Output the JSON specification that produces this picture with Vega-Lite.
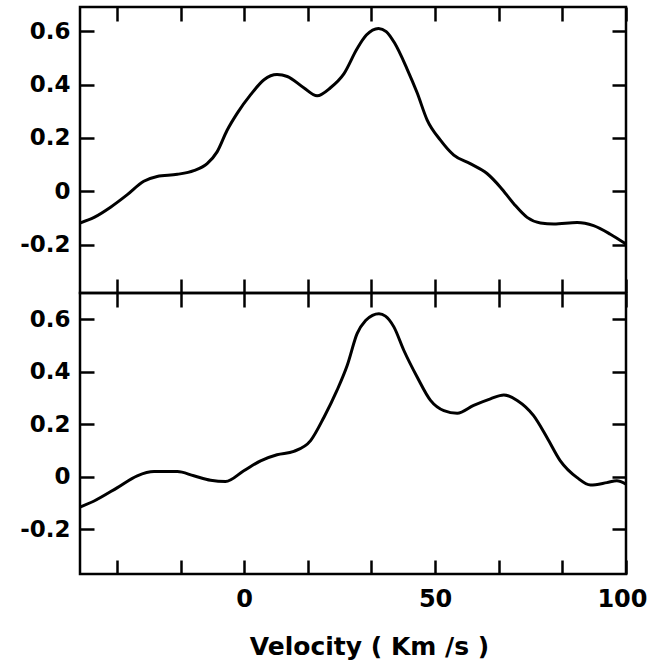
{
  "$schema": "https://vega.github.io/schema/vega-lite/v6.json",
  "padding": {"left": 5, "top": 4, "right": 10, "bottom": 0},
  "background": "white",
  "datasets": {
    "top": [
      {"v": -43, "t": -0.118}, {"v": -39.3, "t": -0.097}, {"v": -35, "t": -0.059},
      {"v": -30.6, "t": -0.012}, {"v": -26.3, "t": 0.038}, {"v": -22.8, "t": 0.056},
      {"v": -17.5, "t": 0.064}, {"v": -13.2, "t": 0.078}, {"v": -9.7, "t": 0.104},
      {"v": -7.1, "t": 0.148}, {"v": -4.5, "t": 0.228}, {"v": -1.8, "t": 0.293},
      {"v": 1.7, "t": 0.362}, {"v": 5.2, "t": 0.418}, {"v": 8.6, "t": 0.437},
      {"v": 11.3, "t": 0.43}, {"v": 15.6, "t": 0.388}, {"v": 19.1, "t": 0.358},
      {"v": 22.6, "t": 0.388}, {"v": 26.1, "t": 0.44}, {"v": 29.6, "t": 0.535},
      {"v": 32.0, "t": 0.585}, {"v": 35.2, "t": 0.61}, {"v": 37.2, "t": 0.598},
      {"v": 39.4, "t": 0.555}, {"v": 42.7, "t": 0.457}, {"v": 45.3, "t": 0.369},
      {"v": 47.9, "t": 0.268}, {"v": 51.4, "t": 0.192}, {"v": 54.9, "t": 0.136},
      {"v": 59.2, "t": 0.104}, {"v": 63.6, "t": 0.067}, {"v": 67.1, "t": 0.016},
      {"v": 70.6, "t": -0.046}, {"v": 74.1, "t": -0.097}, {"v": 77.6, "t": -0.118},
      {"v": 81.1, "t": -0.122}, {"v": 87.2, "t": -0.116}, {"v": 91.5, "t": -0.128},
      {"v": 95.9, "t": -0.16}, {"v": 100, "t": -0.197}
    ],
    "bottom": [
      {"v": -43.3, "t": -0.117}, {"v": -39.3, "t": -0.092}, {"v": -33.2, "t": -0.041},
      {"v": -28, "t": 0.004}, {"v": -23.6, "t": 0.02}, {"v": -17.5, "t": 0.02},
      {"v": -13.2, "t": 0.004}, {"v": -8.8, "t": -0.013}, {"v": -4.9, "t": -0.018},
      {"v": -0.1, "t": 0.023}, {"v": 4.3, "t": 0.061}, {"v": 8.6, "t": 0.084},
      {"v": 13, "t": 0.097}, {"v": 17.4, "t": 0.138}, {"v": 20.9, "t": 0.227},
      {"v": 24.3, "t": 0.329}, {"v": 27, "t": 0.425}, {"v": 29.6, "t": 0.546},
      {"v": 31.8, "t": 0.595}, {"v": 33.6, "t": 0.615}, {"v": 35.3, "t": 0.621},
      {"v": 37, "t": 0.612}, {"v": 39.2, "t": 0.571}, {"v": 41.8, "t": 0.482},
      {"v": 45.3, "t": 0.38}, {"v": 48.8, "t": 0.291}, {"v": 52.3, "t": 0.252},
      {"v": 55.8, "t": 0.242}, {"v": 60.1, "t": 0.272}, {"v": 64.5, "t": 0.297},
      {"v": 68, "t": 0.312}, {"v": 71.5, "t": 0.291}, {"v": 75.8, "t": 0.233},
      {"v": 79.3, "t": 0.15}, {"v": 82.8, "t": 0.061}, {"v": 87.2, "t": -0.003},
      {"v": 90.7, "t": -0.031}, {"v": 95, "t": -0.022}, {"v": 97.6, "t": -0.015},
      {"v": 100, "t": -0.028}
    ]
  },
  "spacing": 0,
  "bounds": "flush",
  "vconcat": [
    {
      "width": 546,
      "height": 286,
      "data": {"name": "top"},
      "layer": [
        {
          "mark": {"type": "line", "interpolate": "monotone", "color": "black", "strokeWidth": 3, "clip": true},
          "encoding": {
            "x": {
              "field": "v", "type": "quantitative",
              "scale": {"domain": [-43, 100], "nice": false, "zero": false},
              "axis": {"orient": "bottom", "values": [-33.333, -16.667, 0, 16.667, 33.333, 50, 66.667, 83.333, 100], "labels": false, "tickSize": -14, "title": null, "minExtent": 0, "maxExtent": 0}
            },
            "y": {
              "field": "t", "type": "quantitative",
              "scale": {"domain": [-0.38, 0.69], "nice": false, "zero": false},
              "axis": {
                "orient": "left", "values": [-0.2, 0, 0.2, 0.4, 0.6], "tickSize": -14, "labelPadding": 24,
                "labelExpr": "datum.value == 0 ? '0' : (datum.value < 0 ? '-' + format(-datum.value, '.1f') : format(datum.value, '.1f'))",
                "minExtent": 73, "maxExtent": 73, "title": null
              }
            }
          }
        },
        {
          "mark": {"type": "line", "interpolate": "monotone", "color": "black", "strokeWidth": 3, "opacity": 0, "clip": true},
          "encoding": {
            "x": {
              "field": "v", "type": "quantitative",
              "axis": {"orient": "top", "values": [-33.333, -16.667, 0, 16.667, 33.333, 50, 66.667, 83.333, 100], "labels": false, "tickSize": -14, "title": null, "minExtent": 0, "maxExtent": 0}
            },
            "y": {
              "field": "t", "type": "quantitative",
              "axis": {"orient": "right", "values": [-0.2, 0, 0.2, 0.4, 0.6], "labels": false, "tickSize": -14, "title": null, "minExtent": 0, "maxExtent": 0}
            }
          }
        }
      ],
      "resolve": {"axis": {"x": "independent", "y": "independent"}}
    },
    {
      "width": 546,
      "height": 281,
      "data": {"name": "bottom"},
      "layer": [
        {
          "mark": {"type": "line", "interpolate": "monotone", "color": "black", "strokeWidth": 3, "clip": true},
          "encoding": {
            "x": {
              "field": "v", "type": "quantitative",
              "scale": {"domain": [-43, 100], "nice": false, "zero": false},
              "axis": {
                "orient": "bottom", "values": [-33.333, -16.667, 0, 16.667, 33.333, 50, 66.667, 83.333, 100],
                "tickSize": -14, "labelPadding": 27, "labelFontSize": 24, "labelFlush": true, "labelFlushOffset": 21,
                "labelExpr": "abs(datum.value - round(datum.value / 50) * 50) < 0.01 ? format(round(datum.value), 'd') : ''",
                "title": "Velocity ( Km /s )", "titleFont": "DejaVu Sans", "titleFontSize": 25, "titleFontWeight": "bold",
                "titleColor": "black", "titlePadding": 23, "titleX": 289, "titleAlign": "center"
              }
            },
            "y": {
              "field": "t", "type": "quantitative",
              "scale": {"domain": [-0.37, 0.70], "nice": false, "zero": false},
              "axis": {
                "orient": "left", "values": [-0.2, 0, 0.2, 0.4, 0.6], "tickSize": -14, "labelPadding": 24,
                "labelExpr": "datum.value == 0 ? '0' : (datum.value < 0 ? '-' + format(-datum.value, '.1f') : format(datum.value, '.1f'))",
                "minExtent": 73, "maxExtent": 73, "title": null
              }
            }
          }
        },
        {
          "mark": {"type": "line", "interpolate": "monotone", "color": "black", "strokeWidth": 3, "opacity": 0, "clip": true},
          "encoding": {
            "x": {
              "field": "v", "type": "quantitative",
              "axis": {"orient": "top", "values": [-33.333, -16.667, 0, 16.667, 33.333, 50, 66.667, 83.333, 100], "labels": false, "tickSize": -14, "title": null, "minExtent": 0, "maxExtent": 0}
            },
            "y": {
              "field": "t", "type": "quantitative",
              "axis": {"orient": "right", "values": [-0.2, 0, 0.2, 0.4, 0.6], "labels": false, "tickSize": -14, "title": null, "minExtent": 0, "maxExtent": 0}
            }
          }
        }
      ],
      "resolve": {"axis": {"x": "independent", "y": "independent"}}
    }
  ],
  "config": {
    "view": {"stroke": "black", "strokeWidth": 2.5},
    "axis": {
      "domain": false, "grid": false, "tickColor": "black", "tickWidth": 2.5,
      "labelFont": "DejaVu Sans", "labelFontSize": 23, "labelFontWeight": "bold", "labelColor": "black"
    }
  }
}
